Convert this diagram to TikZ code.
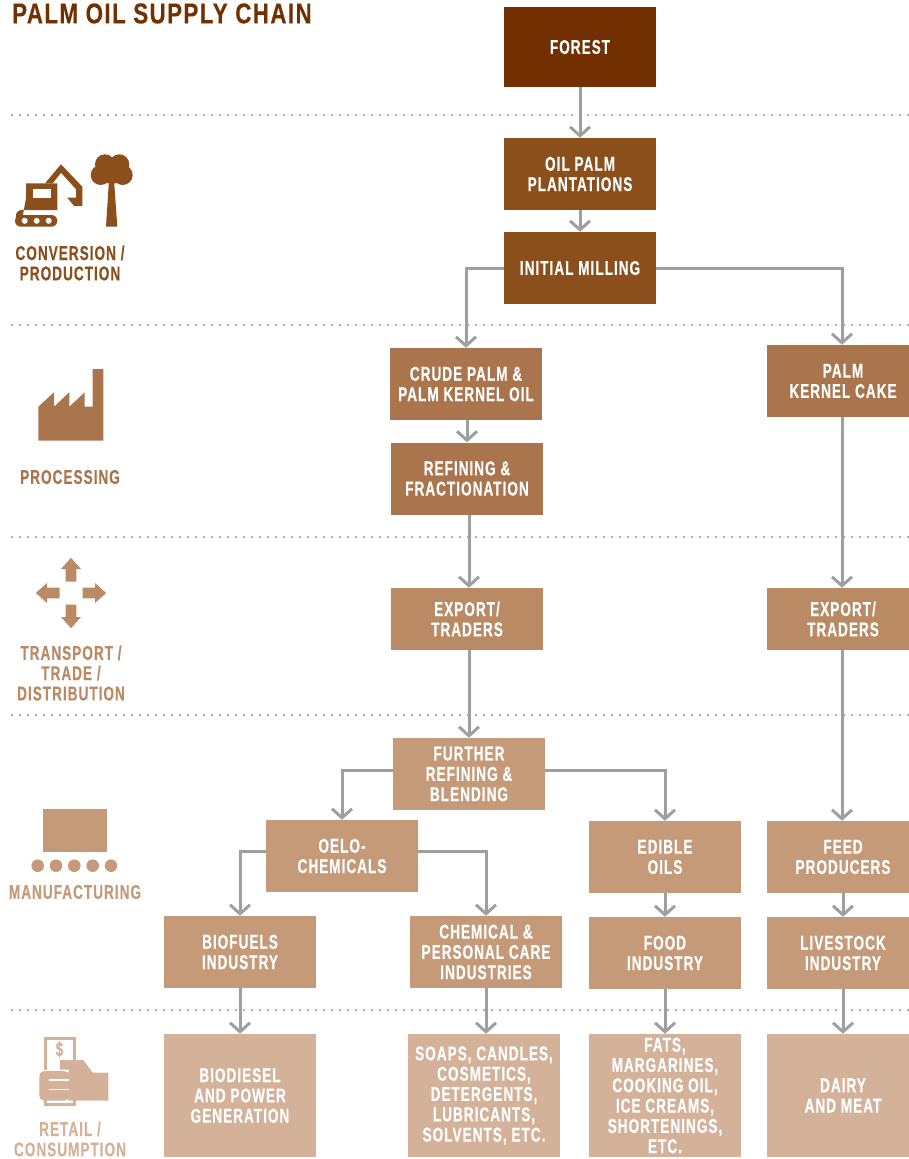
\documentclass[tikz,border=0pt]{standalone}
\usepackage{fontspec}
\setmainfont[FakeStretch=0.68,LetterSpace=5,FakeBold=0.3]{Liberation Sans}
\newfontfamily\titlefont[FakeStretch=0.78,LetterSpace=5,FakeBold=0.3]{Liberation Sans}
\usetikzlibrary{arrows.meta}
\definecolor{forestc}{HTML}{722F00}
\definecolor{convc}{HTML}{8B4F1C}
\definecolor{procc}{HTML}{AA744D}
\definecolor{tradec}{HTML}{B98A63}
\definecolor{manufc}{HTML}{C49A79}
\definecolor{retailc}{HTML}{D4B29A}
\definecolor{linec}{HTML}{9D9FA2}
\tikzset{
  chainbox/.style={draw=none, text=white, align=center, minimum width=152, minimum height=72, inner sep=0pt,
    font=\fontsize{20}{20.3}\selectfont\bfseries},
  stagelabel/.style={align=center, inner sep=0pt, font=\fontsize{20}{20.3}\selectfont\bfseries},
  conn/.style={draw=linec, line width=3pt, -{Straight Barb[length=9pt,width=20pt,line width=3pt]}},
  sep/.style={draw=linec, line width=2.5pt, line cap=round, dash pattern=on 0pt off 8pt}
}
\begin{document}
\begin{tikzpicture}[x=1pt,y=-1pt]
  \useasboundingbox (0,0) rectangle (909,1159);
  \clip (0,0) rectangle (909,1159);
  % dotted rows
  \foreach \y in {115,325,537,715,1010}
    \draw[sep] (12,\y) -- (909,\y);

  \node[stagelabel, anchor=west, text=forestc, font=\fontsize{28.6}{30}\titlefont\bfseries] (title) at (12,13.5) {PALM OIL SUPPLY CHAIN};

  % boxes
  \node[chainbox, fill=forestc, minimum height=80] (forest) at (580,47) {FOREST};
  \node[chainbox, fill=convc] (plantations) at (580,174) {OIL PALM\\PLANTATIONS};
  \node[chainbox, fill=convc] (milling) at (580,268) {INITIAL MILLING};
  \node[chainbox, fill=procc] (crude) at (466,384) {CRUDE PALM \&\\PALM KERNEL OIL};
  \node[chainbox, fill=procc] (refining) at (467,478.5) {REFINING \&\\FRACTIONATION};
  \node[chainbox, fill=procc] (kernelcake) at (843,381) {PALM\\KERNEL CAKE};
  \node[chainbox, fill=tradec, minimum height=62] (exporta) at (467,619) {EXPORT/\\TRADERS};
  \node[chainbox, fill=tradec, minimum height=62] (exportb) at (843,619) {EXPORT/\\TRADERS};
  \node[chainbox, fill=manufc] (further) at (469,774) {FURTHER\\REFINING \&\\BLENDING};
  \node[chainbox, fill=manufc] (oelo) at (342,856) {OELO-\\CHEMICALS};
  \node[chainbox, fill=manufc] (edible) at (665,857) {EDIBLE\\OILS};
  \node[chainbox, fill=manufc] (feed) at (843,857) {FEED\\PRODUCERS};
  \node[chainbox, fill=manufc] (biofuels) at (240,952) {BIOFUELS\\INDUSTRY};
  \node[chainbox, fill=manufc] (chemical) at (486,952) {CHEMICAL \&\\PERSONAL CARE\\INDUSTRIES};
  \node[chainbox, fill=manufc] (food) at (665,953) {FOOD\\INDUSTRY};
  \node[chainbox, fill=manufc] (livestock) at (843,953) {LIVESTOCK\\INDUSTRY};
  \node[chainbox, fill=retailc, minimum height=123] (biodiesel) at (240,1095.5) {BIODIESEL\\AND POWER\\GENERATION};
  \node[chainbox, fill=retailc, minimum height=123] (soaps) at (484,1095.5) {SOAPS, CANDLES,\\COSMETICS,\\DETERGENTS,\\LUBRICANTS,\\SOLVENTS, ETC.};
  \node[chainbox, fill=retailc, minimum height=123] (fats) at (665,1095.5) {FATS,\\MARGARINES,\\COOKING OIL,\\ICE CREAMS,\\SHORTENINGS,\\ETC.};
  \node[chainbox, fill=retailc, minimum height=123] (dairy) at (843,1095.5) {DAIRY\\AND MEAT};

  % arrows
  \draw[conn] (forest) -- (plantations);
  \draw[conn] (plantations) -- (milling);
  \draw[conn] (milling.west) -| (crude.north);
  \draw[conn] (milling.east) -| ([xshift=-1pt]kernelcake.north);
  \draw[conn] (crude.south -| refining.north) -- (refining.north);
  \draw[conn] ([xshift=2pt]refining.south) -- ([xshift=2pt]exporta.north);
  \draw[conn] ([xshift=-1pt]kernelcake.south) -- ([xshift=-1pt]exportb.north);
  \draw[conn] (exporta.south -| further.north) -- (further.north);
  \draw[conn] ([xshift=-1pt]exportb.south) -- ([xshift=-1pt]feed.north);
  \draw[conn] ([yshift=4pt]further.west) -| (oelo.north);
  \draw[conn] ([yshift=4pt]further.east) -| (edible.north);
  \draw[conn] ([yshift=5pt]oelo.west) -| (biofuels.north);
  \draw[conn] ([yshift=5pt]oelo.east) -| (chemical.north);
  \draw[conn] (edible) -- (food);
  \draw[conn] (feed) -- (livestock);
  \draw[conn] (biofuels) -- (biodiesel);
  \draw[conn] (chemical.south) -- (chemical.south |- soaps.north);
  \draw[conn] (food) -- (fats);
  \draw[conn] (livestock) -- (dairy);

  % left labels
  \node[stagelabel, text=convc] (conversion) at (70,263) {CONVERSION /\\PRODUCTION};
  \node[stagelabel, text=procc] (processing) at (70,477) {PROCESSING};
  \node[stagelabel, text=tradec] (transport) at (71,673) {TRANSPORT /\\TRADE /\\DISTRIBUTION};
  \node[stagelabel, text=manufc] (manufacturing) at (75,892) {MANUFACTURING};
  \node[stagelabel, text=retailc] (consumption) at (70,1139) {RETAIL /\\CONSUMPTION};

  % excavator
  \fill[convc] (26,183.3) -- (57.3,183.3) -- (57.3,210) -- (21.7,210) arc[start angle=-90,end angle=-270,radius=5.85] -- (26,198.3) -- cycle;
  \fill[white] (33.3,189.3) rectangle (50.7,198.3);
  \fill[convc] (45,183.3) -- (61,164.3) -- (82.3,186.7) -- (82.3,206) -- (74,206) -- (67.3,197.7) -- (76,197.7) -- (76,189.3) -- (61,172.7) -- (52.7,183.3) -- cycle;
  \fill[convc, rounded corners=5.8] (15,215) rectangle (57.3,226.7);
  \foreach \x in {24.7,36.7,48.7}
    \fill[white] (\x,220.8) circle[radius=3];
  % tree
  \fill[convc] (100.7,175) circle[radius=10] (122.7,175) circle[radius=10] (105,164.3) circle[radius=10]
    (119.3,164.3) circle[radius=10] (112,172) circle[radius=12];
  \fill[convc] (109,180) -- (114,180) -- (117.3,226.7) -- (106,226.7) -- cycle;

  % factory
  \fill[procc] (38.3,440.7) -- (38.3,406.7) -- (54,392.3) -- (54,406.7) -- (69.3,392.3) -- (69.3,406.7) -- (84.7,392.3)
    -- (84.7,406.7) -- (92.7,406.7) -- (92.7,369) -- (103.3,369) -- (103.3,440.7) -- cycle;

  % four arrows
  \foreach \a in {0,90,180,270}
    \fill[tradec, shift={(71,593)}, rotate=\a] (11.5,-5.3) -- (24,-5.3) -- (24,-10) -- (35.2,0) -- (24,10) -- (24,5.3) -- (11.5,5.3) -- cycle;

  % conveyor
  \fill[manufc] (42.7,809) rectangle (106.7,851.7);
  \foreach \x in {37.7,56,74.3,92.7,111}
    \fill[manufc] (\x,865.7) circle[radius=6.3];

  % hand with note
  \draw[retailc, line width=3.3pt] (45.6,1038.4) rectangle (74.4,1104.8);
  \node[retailc, inner sep=0pt, font=\fontsize{20}{20}\selectfont\bfseries] (dollar) at (59.5,1049.5) {\$};
  \fill[retailc] (60,1060) -- (83.3,1060) -- (92.7,1072.7) -- (108.3,1072.7) -- (108.3,1100.7) -- (68.3,1100.7) -- (68.3,1069.5) -- (60,1069.5) arc[start angle=-90,end angle=-270,radius=4.75] -- cycle;
  \fill[white] (39,1069.5) rectangle (69.3,1071);
  \fill[retailc, rounded corners=5] (39.3,1071) rectangle (69.3,1100.7);
  \foreach \y in {1080,1089.5}
    \draw[white, line width=1.5pt] (48.5,\y) -- (69.3,\y);
\end{tikzpicture}
\end{document}
